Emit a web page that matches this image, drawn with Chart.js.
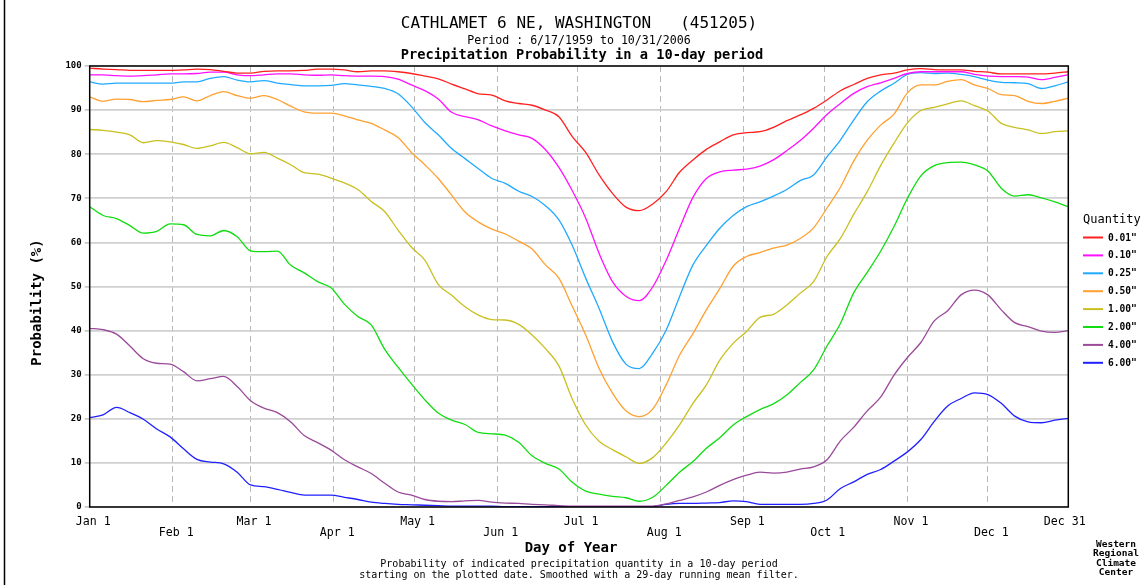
<!DOCTYPE html>
<html><head><meta charset="utf-8">
<script src="https://cdn.jsdelivr.net/npm/chart.js@4.4.0/dist/chart.umd.min.js"></script>
<style>html,body{margin:0;padding:0;background:#fff;}canvas{display:block;}</style>
</head><body>
<canvas id="c" width="1147" height="585"></canvas>
<script>
// ---- data (day of year, leap-year axis) ----
const days = [1,6,11,16,21,26,31,36,41,46,51,56,61,66,71,76,81,86,91,96,101,106,111,116,121,126,131,136,141,146,151,156,161,166,171,176,181,186,191,196,201,206,211,216,221,226,231,236,241,246,251,256,261,266,271,276,281,286,291,296,301,306,311,316,321,326,331,336,341,346,351,356,361,366];

const p001 = [99.5,99.3,99.2,99,99,99,99,99.1,99.3,99.2,98.8,98.4,98.4,98.8,98.9,98.9,99,99.3,99.3,
99.1,98.7,98.9,98.9,98.7,98.3,97.7,97.1,95.9,94.8,93.7,93.4,92.1,91.5,91.1,90,88.5,84,
80.4,75.3,71.1,68,67.2,68.7,71.5,75.9,78.7,81.1,82.8,84.4,84.9,85.1,86.1,87.6,88.9,90.4,
92.3,94.4,95.8,97.2,98,98.4,99.1,99.4,99.2,99.1,99.1,98.8,98.6,98.2,98.2,98.2,98.2,98.4,98.7];
const p010 = [98,98,97.8,97.7,97.8,98,98.2,98.2,98.3,98.6,98.6,98,97.8,98,98.2,98.2,98,97.9,98,
97.8,97.7,97.7,97.6,97,95.7,94.4,92.5,89.5,88.5,87.8,86.4,85.3,84.4,83.6,81,77,71.7,
65.5,57.5,51.1,47.8,46.8,49.9,55.9,63.2,70.2,74.5,76,76.4,76.6,77.3,78.7,80.8,83.1,85.9,
89,91.5,93.8,95.3,96.2,97.2,98.3,98.7,98.7,98.7,98.7,98.1,97.7,97.6,97.6,97.5,96.9,97.4,98];
const p025 = [96.4,95.9,96.1,96.1,96.1,96.1,96.1,96.4,96.4,97.2,97.6,96.8,96.4,96.7,96.1,95.8,95.5,95.5,95.6,
96,95.7,95.4,94.9,93.7,90.8,87.2,84.4,81.3,79,76.7,74.5,73.4,71.6,70.4,68.3,65.1,59.3,
51.9,45,37.5,32.4,31.4,34.9,40.1,47.7,54.9,59.3,63.2,66.1,68.1,69.2,70.5,72,74,75.3,
79.4,83.2,87.8,91.9,94.3,96.1,98.1,98.5,98.3,98.4,98.1,97.6,96.8,96.3,96.2,96,94.9,95.5,96.4];
const p050 = [93,92,92.5,92.4,91.9,92.2,92.4,93,92.1,93.3,94.2,93.3,92.7,93.3,92.4,90.9,89.6,89.3,89.3,
88.7,87.8,87,85.5,83.8,80.4,77.6,74.5,70.7,66.9,64.6,63,61.9,60.3,58.5,54.9,51.9,45.5,
39,31.4,25.8,21.8,20.5,22.2,27.7,34.4,39.3,44.7,49.5,54.6,56.8,57.7,58.7,59.4,60.9,63.3,
67.8,72.5,78.5,83.2,86.6,89.1,93.9,95.7,95.7,96.5,96.9,95.7,94.9,93.5,93.3,92,91.5,92,92.7];
const p100 = [85.6,85.4,85,84.4,82.6,83.1,82.8,82.2,81.3,81.9,82.7,81.5,80.1,80.4,79.1,77.6,75.8,75.5,74.6,
73.5,72,69.3,67,62.8,58.9,56,50.5,48,45.4,43.5,42.5,42.4,41.4,39,35.9,32,24.5,
18.6,14.9,13,11.4,9.9,11.2,14.5,18.6,23.5,27.7,33.3,37.1,39.8,43,43.7,45.8,48.5,51.1,
56.8,60.9,66.4,71.5,77.4,82.5,87.1,89.9,90.6,91.4,92.1,91,89.8,87,86.1,85.5,84.7,85.1,85.3];
const p200 = [68.1,66.1,65.4,63.8,62.1,62.5,64.2,64,61.8,61.5,62.7,61.3,58.1,57.9,58,54.8,53.1,51.1,49.7,
46,43.2,41.3,35.8,31.7,27.9,24.3,21.3,19.7,18.7,16.9,16.6,16.3,14.7,11.6,9.9,8.6,5.6,
3.6,2.9,2.4,2.1,1.3,2.2,4.9,7.9,10.3,13.3,15.7,18.6,20.5,22.1,23.4,25.4,28.2,31.1,
36.5,41.6,48.6,53.2,58,63.6,70,75.1,77.4,78.1,78.2,77.6,76.2,72.3,70.5,70.8,70.1,69.2,68.1];
const p400 = [40.5,40.2,39.2,36.5,33.6,32.6,32.4,30.7,28.6,29.1,29.6,27.3,24.1,22.4,21.4,19.3,16.2,14.6,12.9,
10.7,9.1,7.6,5.4,3.4,2.7,1.7,1.3,1.2,1.4,1.5,1.1,0.9,0.8,0.6,0.5,0.3,0.2,
0.2,0.2,0.2,0.2,0.2,0.2,0.7,1.5,2.3,3.4,4.9,6.2,7.2,7.9,7.7,7.9,8.6,9.1,
10.7,15,18.1,21.8,24.9,29.9,33.9,37.3,42.2,44.5,48.1,49.2,48.1,44.7,41.8,40.9,39.9,39.6,40];
const p600 = [20.3,20.9,22.6,21.4,19.9,17.7,15.9,13.2,10.8,10.2,9.8,7.9,5,4.6,4,3.3,2.7,2.7,2.7,
2.2,1.7,1.1,0.8,0.6,0.5,0.4,0.3,0.2,0.2,0.2,0.2,0.1,0.1,0.1,0.1,0.1,0.1,
0.1,0.1,0.1,0.1,0.1,0.1,0.6,0.8,0.8,0.9,1,1.4,1.2,0.6,0.6,0.6,0.6,0.8,
1.6,4.2,5.7,7.4,8.5,10.4,12.5,15.3,19.4,22.9,24.6,25.9,25.5,23.5,20.6,19.3,19.1,19.7,20.1];

const seriesLabels = ['0.01"','0.10"','0.25"','0.50"','1.00"','2.00"','4.00"','6.00"'];
const seriesColors = ['#ff2020','#ff10ff','#20aaff','#ffa030','#c8c020','#10dd10','#9a4a9a','#2020ff'];
const seriesValues = [p001,p010,p025,p050,p100,p200,p400,p600];

const monthTicks = [1,32,61,92,122,153,183,214,245,275,306,336,366];
const monthLabels = ['Jan 1','Feb 1','Mar 1','Apr 1','May 1','Jun 1','Jul 1','Aug 1','Sep 1','Oct 1','Nov 1','Dec 1','Dec 31'];
const yTicks = [0,10,20,30,40,50,60,70,80,90,100];

const titleLine1 = 'CATHLAMET 6 NE, WASHINGTON   (451205)';
const titleLine2 = 'Period : 6/17/1959 to 10/31/2006';
const titleLine3 = 'Precipitation Probability in a 10-day period';
const xTitle = 'Day of Year';
const yTitle = 'Probability (%)';
const caption1 = 'Probability of indicated precipitation quantity in a 10-day period';
const caption2 = 'starting on the plotted date. Smoothed with a 29-day running mean filter.';
const creditLines = ['Western','Regional','Climate','Center'];
const legendTitle = 'Quantity';

const MONO = '"DejaVu Sans Mono", "Liberation Mono", monospace';

const datasets = seriesValues.map((vals, i) => ({
  label: seriesLabels[i],
  data: days.map((d, j) => ({x: d, y: vals[j]})),
  borderColor: seriesColors[i],
  backgroundColor: seriesColors[i],
  borderWidth: 1.3,
  pointRadius: 0,
  fill: false,
  cubicInterpolationMode: 'monotone'
}));

const decorPlugin = {
  id: 'decor',
  afterDraw(chart) {
    const ctx = chart.ctx;
    const a = chart.chartArea;
    const cx = (a.left + a.right) / 2;
    ctx.save();
    // plot frame
    ctx.strokeStyle = '#000';
    ctx.lineWidth = 1.5;
    ctx.strokeRect(a.left, a.top, a.right - a.left, a.bottom - a.top);
    // outer left rule
    ctx.lineWidth = 1.5;
    ctx.beginPath(); ctx.moveTo(4.5, 0); ctx.lineTo(4.5, 585); ctx.stroke();

    ctx.fillStyle = '#000';
    ctx.textAlign = 'center';
    ctx.textBaseline = 'middle';
    ctx.font = '16px ' + MONO;
    ctx.fillText(titleLine1, cx, 24);
    ctx.font = '11.6px ' + MONO;
    ctx.fillText(titleLine2, cx, 41);
    ctx.font = 'bold 13.7px ' + MONO;
    ctx.fillText(titleLine3, cx + 3, 55.5);

    ctx.font = 'bold 14px ' + MONO;
    ctx.fillText(xTitle, cx - 8, 548.5);
    ctx.save();
    ctx.translate(37.5, (a.top + a.bottom) / 2 + 16);
    ctx.rotate(-Math.PI / 2);
    ctx.fillText(yTitle, 0, 0);
    ctx.restore();

    ctx.font = '10px ' + MONO;
    ctx.fillText(caption1, cx, 564.5);
    ctx.fillText(caption2, cx, 575.5);

    ctx.font = 'bold 9.5px ' + MONO;
    creditLines.forEach((t, i) => ctx.fillText(t, 1116, 544.5 + i * 9.5));

    // legend
    ctx.textAlign = 'left';
    ctx.font = '12px ' + MONO;
    ctx.fillText(legendTitle, 1083, 220);
    ctx.font = 'bold 9.6px ' + MONO;
    chart.data.datasets.forEach((ds, i) => {
      const y = 237.5 + i * 17.9;
      ctx.strokeStyle = ds.borderColor;
      ctx.lineWidth = 2;
      ctx.beginPath(); ctx.moveTo(1083, y); ctx.lineTo(1103, y); ctx.stroke();
      ctx.fillStyle = '#000';
      ctx.fillText(ds.label, 1108, y + 0.5);
    });
    ctx.restore();
  }
};

new Chart(document.getElementById('c'), {
  type: 'line',
  data: {datasets},
  plugins: [decorPlugin],
  options: {
    responsive: false,
    animation: false,
    events: [],
    layout: {padding: {left: 49.7, top: 66, right: 78.7, bottom: 38}},
    plugins: {legend: {display: false}, title: {display: false}, tooltip: {enabled: false}},
    scales: {
      x: {
        type: 'linear',
        min: 1, max: 366,
        afterBuildTicks: s => { s.ticks = monthTicks.map(v => ({value: v})); },
        afterFit: s => { s.height = 40; },
        ticks: {
          autoSkip: false, maxRotation: 0, minRotation: 0, padding: 9,
          color: '#000',
          font: {family: MONO, size: 11.6, lineHeight: 1.0},
          callback: (v) => {
            const i = monthTicks.indexOf(v);
            if (i < 0) return '';
            let t = monthLabels[i];
            if (i === monthTicks.length - 1) t = t + ' ';
            else t = ' ' + t;
            return i % 2 === 0 ? [t] : ['', t];
          }
        },
        grid: {color: '#b8b8b8', lineWidth: 1, drawTicks: false},
        border: {display: false, dash: [6, 4]}
      },
      y: {
        min: 0, max: 100,
        afterBuildTicks: s => { s.ticks = yTicks.map(v => ({value: v})); },
        afterFit: s => { s.width = 40; },
        ticks: {
          padding: 3, color: '#000',
          font: {family: MONO, size: 9, weight: 'bold'}
        },
        grid: {color: '#d0d0d0', lineWidth: 1.8, tickLength: 5, tickColor: '#c0c0c0', tickWidth: 1.5},
        border: {display: false}
      }
    }
  }
});
</script>
</body></html>
